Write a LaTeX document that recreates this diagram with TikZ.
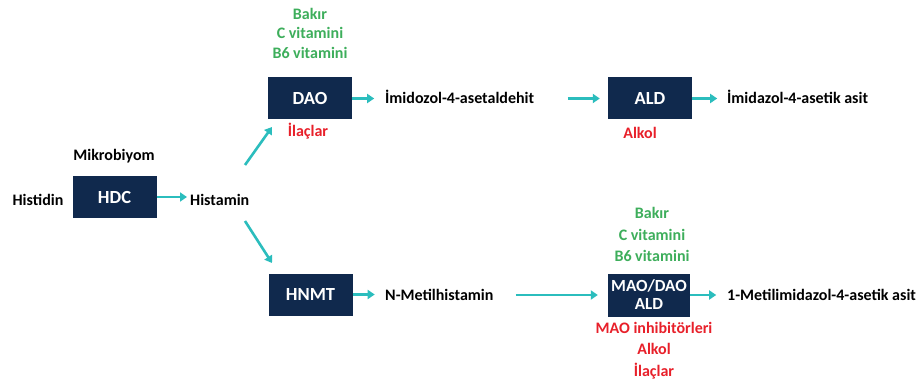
\documentclass[tikz,border=0pt]{standalone}
\usepackage{fontspec}
\setmainfont{Carlito}
\usetikzlibrary{arrows.meta}
\definecolor{navy}{HTML}{10294D}
\definecolor{teal2}{HTML}{2BBDBD}
\definecolor{grn}{HTML}{3DAE5B}
\definecolor{rd}{HTML}{E8202A}
\tikzset{
  enz/.style={fill=navy, minimum width=84pt, minimum height=42pt, text=white, font=\bfseries\fontsize{18.5}{20}\selectfont, align=center, inner sep=1pt},
  lbl/.style={font=\bfseries\fontsize{16}{18}\selectfont, text=black, inner sep=3pt},
  glbl/.style={font=\bfseries\fontsize{16}{19.5}\selectfont, text=grn, align=center, inner sep=0pt},
  rlbl/.style={font=\bfseries\fontsize{16}{21.5}\selectfont, text=rd, align=center, inner sep=0pt},
  arr/.style={draw=teal2, line width=2.6pt, -{Triangle[length=7pt,width=9pt]}},
}
\begin{document}
\begin{tikzpicture}[x=1pt,y=-1pt]
\useasboundingbox[fill=white] (0,0) rectangle (920,387);
% left
\node[lbl] (histidin) at (38,200) {Histidin};
\node[enz] (hdc) at (114.5,197) {HDC};
\node[lbl] (mikro) at (114,156) {Mikrobiyom};
\node[lbl,anchor=west] (histamin) at (187,200) {Histamin};
% top branch
\node[enz] (dao) at (310,98.5) {DAO};
\node[glbl] (daog) at (310,33) {Bakır\\C vitamini\\B6 vitamini};
\node[rlbl] (daor) at (308,131) {İlaçlar};
\node[lbl,anchor=west] (imal) at (382,97) {İmidozol-4-asetaldehit};
\node[enz] (ald) at (650,98.5) {ALD};
\node[rlbl] (aldr) at (640,133) {Alkol};
\node[lbl,anchor=west] (imas) at (724,97) {İmidazol-4-asetik asit};
% bottom branch
\node[enz] (hnmt) at (310.5,294.5) {HNMT};
\node[lbl,anchor=west] (nmh) at (382,295) {N-Metilhistamin};
\node[enz, minimum width=82pt, minimum height=43pt, font=\bfseries\fontsize{17}{18}\selectfont] (mao) at (649,295) {MAO/DAO\\ALD};
\node[glbl, font=\bfseries\fontsize{16}{21.5}\selectfont] (maog) at (652,234.5) {Bakır\\C vitamini\\B6 vitamini};
\node[rlbl] (maor) at (654,350.5) {MAO inhibitörleri\\Alkol\\İlaçlar};
\node[lbl,anchor=west] (mias) at (724,295) {1-Metilimidazol-4-asetik asit};
% connectors
\coordinate (u1) at (245,165);
\coordinate (u2) at (272,127);
\coordinate (d1) at (245,221);
\coordinate (d2) at (272,263);
\draw[arr] (hdc.east) -- (hdc.east -| histamin.west);
\draw[arr] (u1) -- (u2);
\draw[arr] (d1) -- (d2);
\draw[arr] (dao.east) -- ++(22,0);
\draw[arr] ([xshift=-40pt]ald.west) -- ([xshift=-8pt]ald.west);
\draw[arr] (ald.east) -- ++(25,0);
\draw[arr] (hnmt.east) -- ++(22,0);
\draw[arr] ([xshift=-92pt]mao.west) -- ([xshift=-10pt]mao.west);
\draw[arr] (mao.east) -- ++(26,0);
\end{tikzpicture}
\end{document}
